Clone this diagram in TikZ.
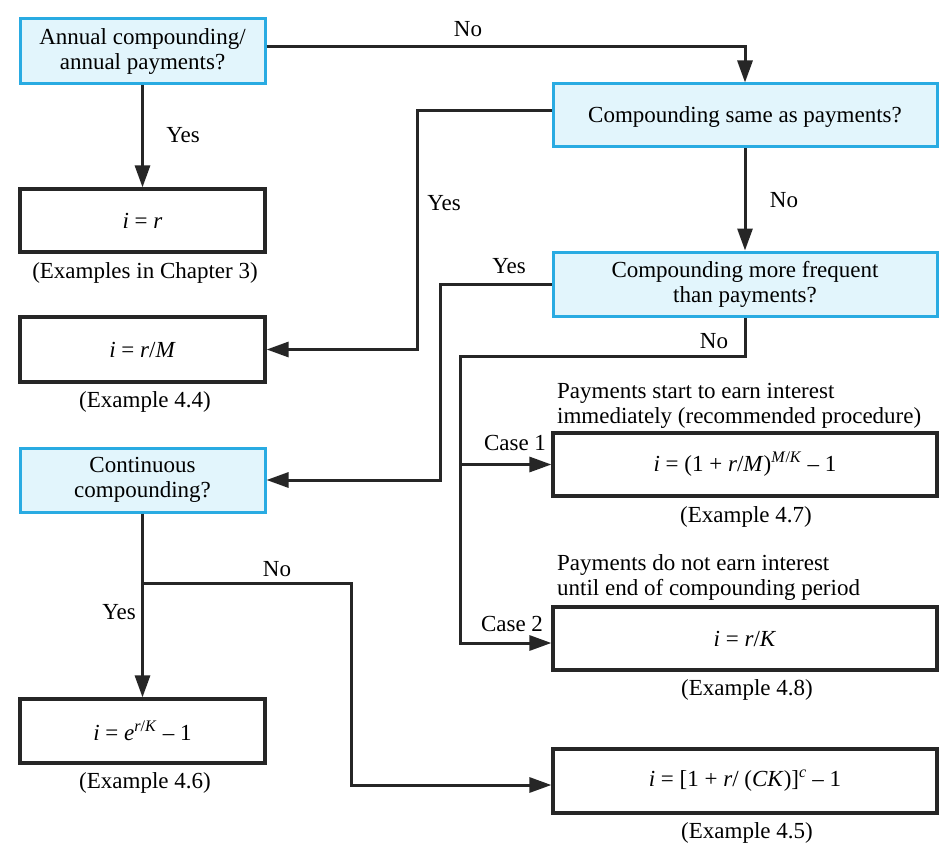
\documentclass[tikz,border=0pt]{standalone}
\usepackage{fontspec}
\setmainfont{Liberation Serif}
\usetikzlibrary{arrows.meta}
\definecolor{qfill}{RGB}{226,245,252}
\definecolor{qline}{RGB}{41,171,226}
\begin{document}
\begin{tikzpicture}[x=1pt,y=-1pt,
  every node/.style={font=\fontsize{23}{25}\selectfont, inner sep=0pt},
  qbox/.style={draw=qline, fill=qfill, line width=3pt, align=center},
  rbox/.style={draw=black!85, line width=3.2pt, align=center},
  narrowbox/.style={minimum width=245pt},
  widebox/.style={minimum width=384pt},
  conn/.style={draw=black!85, line width=3pt, -{Triangle[length=22pt,width=15pt]}}]
\useasboundingbox (0,0) rectangle (941,850);
\fill[white] (0,0) rectangle (941,850);

% left column
\node[qbox, narrowbox, minimum height=65pt] (A) at (142.5,51.5) {Annual compounding/\\annual payments?};
\node[rbox, narrowbox, minimum height=63pt] (B) at (142.5,220.5) {\textit{i} = \textit{r}};
\node (lB) at (145,273) {(Examples in Chapter 3)};
\node[rbox, narrowbox, minimum height=65pt] (E) at (142.5,349.5) {\textit{i} = \textit{r}/\textit{M}};
\node (lE) at (145,402) {(Example 4.4)};
\node[qbox, narrowbox, minimum height=64pt] (F) at (142.5,480) {Continuous\\compounding?};
\node[rbox, narrowbox, minimum height=64pt] (I) at (142.5,731) {\textit{i} = \textit{e}\textsuperscript{\textit{r}/\textit{K}} – 1};
\node (lI) at (145,783) {(Example 4.6)};

% right column
\node[qbox, widebox, minimum height=63pt, text depth=2pt] (C) at (745,115.5) {Compounding same as payments?};
\node[qbox, widebox, minimum height=64pt] (D) at (745,284) {Compounding more frequent\\than payments?};
\node[rbox, widebox, minimum height=63pt] (G) at (745,464.5) {\textit{i} = (1 + \textit{r}/\textit{M})\textsuperscript{\textit{M}/\textit{K}} – 1};
\node[anchor=west, align=left] (tG) at (557,405.5) {Payments start to earn interest\\immediately (recommended procedure)};
\node (lG) at (746,517) {(Example 4.7)};
\node[rbox, widebox, minimum height=63pt] (H) at (745,638.5) {\textit{i} = \textit{r}/\textit{K}};
\node[anchor=west, align=left] (tH) at (557,577.5) {Payments do not earn interest\\until end of compounding period};
\node (lH) at (747,690) {(Example 4.8)};
\node[rbox, widebox, minimum height=64pt] (J) at (745,781) {\textit{i} = [1 + \textit{r}/ (\textit{CK})]\textsuperscript{\textit{c}} – 1};
\node (lJ) at (747,833) {(Example 4.5)};

% connectors
\draw[conn] ([yshift=4.5pt]A.east) -| (C.north);
\node (nAC) at (468,29) {No};
\draw[conn] (A.south) -- (B.north);
\node (yAB) at (183,135) {Yes};

\draw[conn] ([yshift=4.5pt]C.west) -- ++(-134,0) |- (E.east);
\node (yCE) at (444,203) {Yes};
\draw[conn] (C.south) -- (D.north);
\node (nCD) at (784,200) {No};

\draw[conn] (D.west) -- ++(-111,0) |- (F.east);
\node (yDF) at (509,266) {Yes};

\coordinate (dturn) at (745,356);
\coordinate (c2) at (460,643);
\coordinate (c1) at (460,464.5);
\draw[conn] (D.south) -- (dturn) -| (c2) -- ([yshift=-4.5pt]H.west);
\draw[conn] (c1) -- (G.west);
\node (nD) at (714,341) {No};
\node (k1) at (515,443) {Case 1};
\node (k2) at (512,624) {Case 2};

\draw[conn] (F.south) -- (I.north);
\node (yFI) at (119,612) {Yes};
\coordinate (fb) at (142.5,583);
\coordinate (fc) at (351,583);
\draw[conn] (fb) -- (fc) |- ([yshift=-4pt]J.west);
\node (nFJ) at (277,569) {No};
\end{tikzpicture}
\end{document}
